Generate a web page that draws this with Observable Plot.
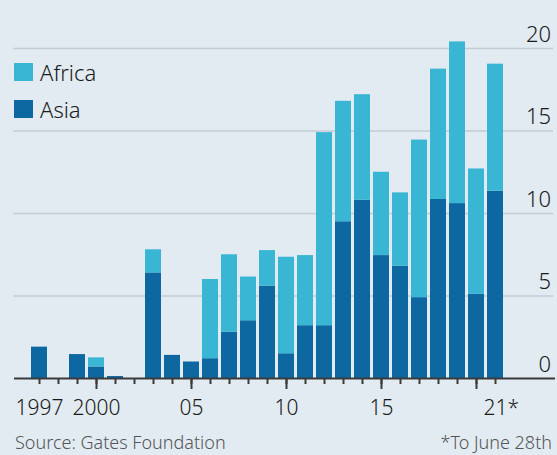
<!DOCTYPE html>
<html>
<head>
<meta charset="utf-8">
<script src="https://cdn.jsdelivr.net/npm/d3@7"></script>
<script src="https://cdn.jsdelivr.net/npm/@observablehq/plot@0.6"></script>
<style>
  html, body { margin: 0; padding: 0; background: #e2ebf2; }
  #wrap { position: relative; width: 557px; height: 455px; overflow: hidden; background: #e2ebf2; font-family: "Noto Sans", sans-serif; font-weight: 300; color: #1a1a1a; }
  #chart { position: absolute; left: 0; top: 0; }
  #chart svg text { font-weight: 300; }
  .leg { position: absolute; left: 14px; font-size: 22px; line-height: 1; display: flex; align-items: center; }
  .sw { display: inline-block; width: 19px; height: 18px; margin-right: 7px; }
  .cap { position: absolute; top: 432.5px; font-size: 18px; line-height: 1; color: #555; }
</style>
</head>
<body>
<div id="wrap">
  <div id="chart"></div>
  <div class="leg" style="top:61px"><span class="sw" style="background:#38b6d3"></span>Africa</div>
  <div class="leg" style="top:98px"><span class="sw" style="background:#0d68a2"></span>Asia</div>
  <div class="cap" style="left:15px">Source: Gates Foundation</div>
  <div class="cap" style="right:5px">*To June 28th</div>
</div>
<script>
const years = [1997,1998,1999,2000,2001,2002,2003,2004,2005,2006,2007,2008,2009,2010,2011,2012,2013,2014,2015,2016,2017,2018,2019,2020,2021];
const asia   = [1.9,0,1.45,0.7,0.12,0,6.4,1.4,1.0,1.2,2.8,3.5,5.6,1.5,3.2,3.2,9.5,10.8,7.45,6.8,4.9,10.85,10.6,5.1,11.35];
const africa = [0,0,0,0.55,0,0,1.4,0,0,4.8,4.7,2.65,2.15,5.85,4.25,11.7,7.3,6.4,5.05,4.45,9.55,7.9,9.8,7.6,7.7];
const regions = ["Africa","Asia"];
const colors = ["#38b6d3","#0d68a2"];
const yTicks = [0,5,10,15,20];
const xMajor = [2000,2005,2010,2015,2020];
const xLabels = [1997,2000,2005,2010,2015];
const lastLabel = "21*";

const data = [
  ...years.map((y,i) => ({year: y, region: "Asia", value: asia[i]})),
  ...years.map((y,i) => ({year: y, region: "Africa", value: africa[i]}))
];

const chart = Plot.plot({
  width: 557,
  height: 425,
  marginLeft: 29.5,
  marginRight: 52.5,
  marginTop: 48,
  marginBottom: 47,
  style: {background: "transparent", fontFamily: "Noto Sans, sans-serif", color: "#1a1a1a", overflow: "visible"},
  x: {type: "band", domain: years, paddingInner: 0.17, paddingOuter: 0.085, axis: null},
  y: {domain: [0,20], axis: null},
  color: {domain: regions, range: colors},
  marks: [
    Plot.ruleY(yTicks.slice(1), {stroke: "#c3ccd3", strokeWidth: 1.5, insetLeft: -16.5, insetRight: -48.5}),
    Plot.barY(data, {x: "year", y: "value", fill: "region"}),
    Plot.ruleY([0], {stroke: "#3a3a3a", strokeWidth: 2, insetLeft: -15.5, insetRight: -50.5}),
    Plot.axisX({ticks: years, tickSize: 6, strokeWidth: 2, stroke: "#3a3a3a", tickFormat: () => "", label: null}),
    Plot.axisX({ticks: xMajor, tickSize: 11, strokeWidth: 2, stroke: "#3a3a3a", tickFormat: () => "", label: null}),
    Plot.axisX({ticks: xLabels, tickSize: 0, tickPadding: 22, fontSize: 21, fill: "#1a1a1a",
      tickFormat: d => (d < 2001 ? String(d) : String(d).slice(2)), label: null}),
    Plot.text([years[years.length-1]], {x: d => d, y: () => 0, text: () => lastLabel, textAnchor: "start", dx: -12, dy: 30, fontSize: 21, fill: "#1a1a1a"}),
    Plot.axisY({anchor: "right", ticks: yTicks, tickSize: 0, tickPadding: 0, dx: 46, dy: -14, textAnchor: "end", fontSize: 22, fill: "#1a1a1a", label: null})
  ]
});
document.getElementById("chart").appendChild(chart);
</script>
</body>
</html>
